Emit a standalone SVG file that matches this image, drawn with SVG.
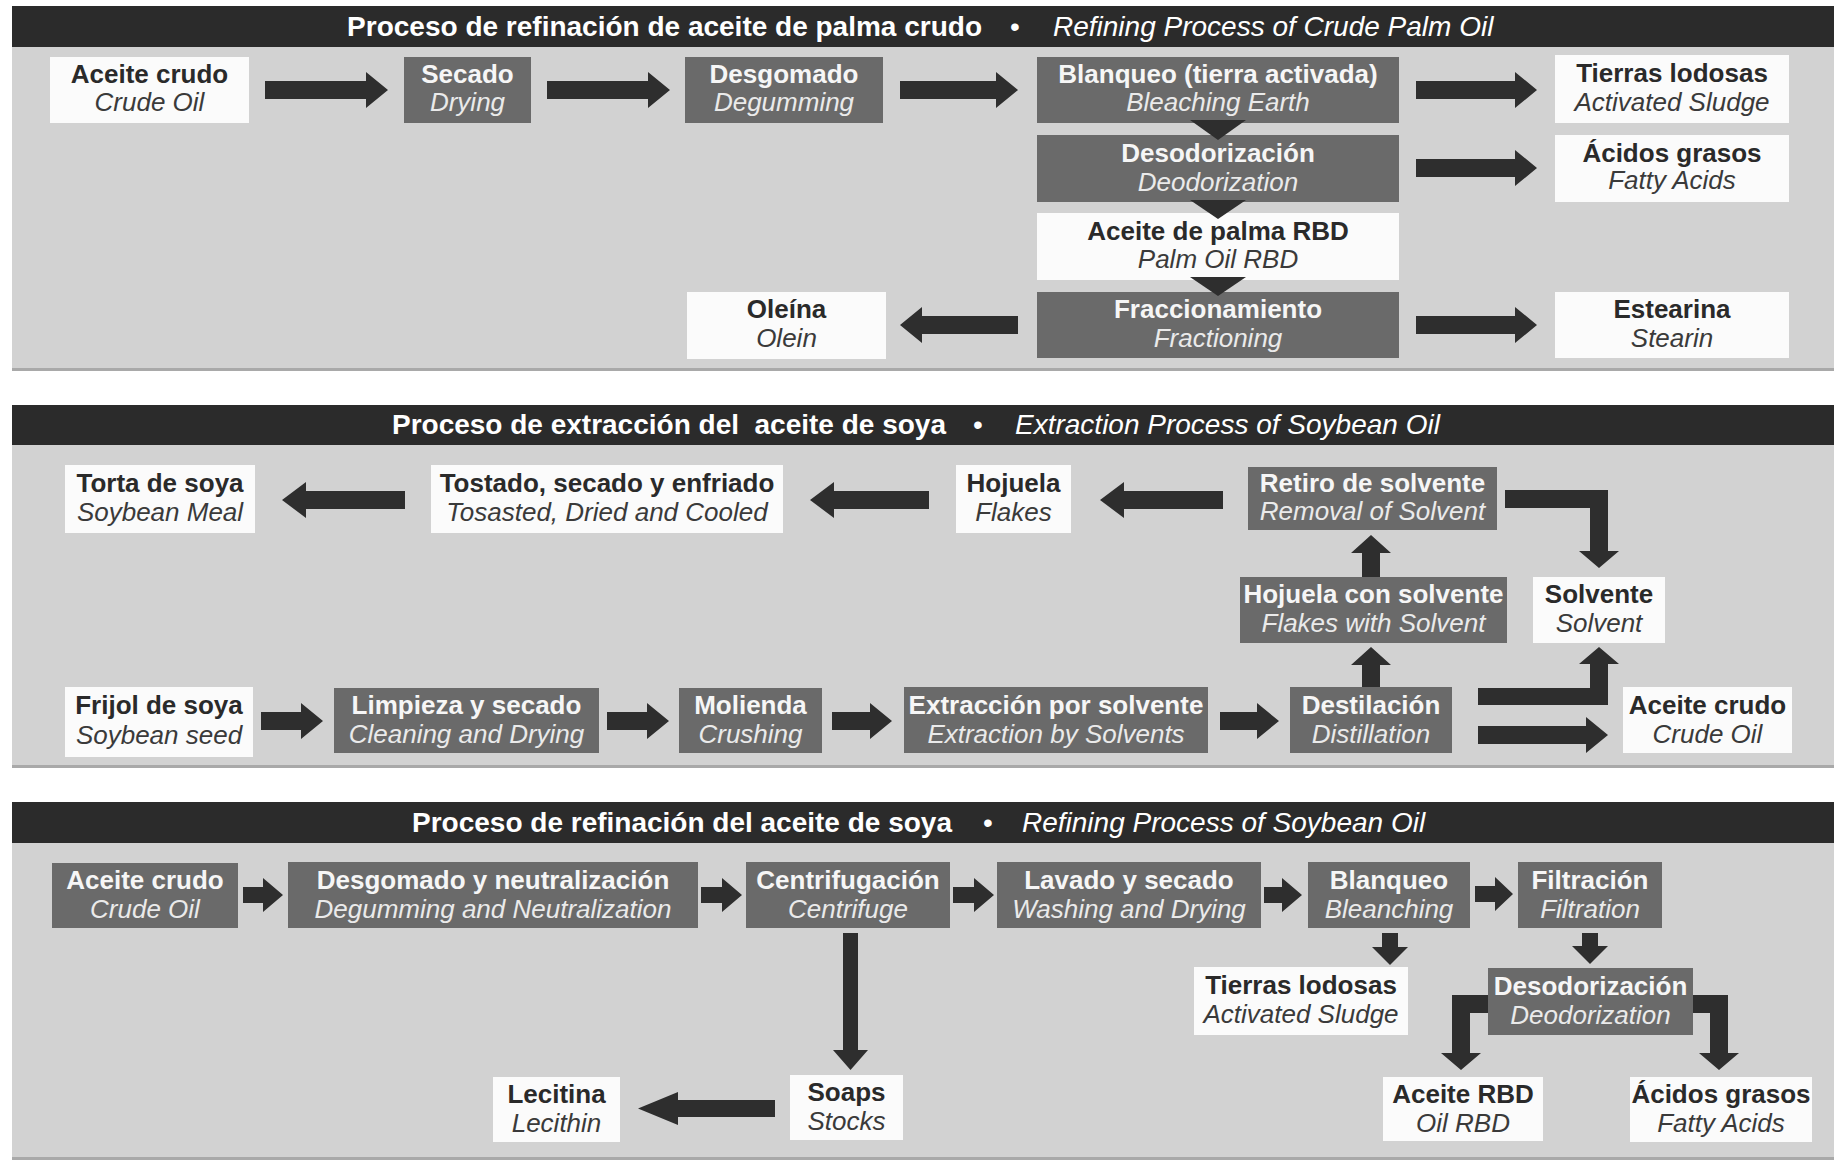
<svg xmlns="http://www.w3.org/2000/svg" width="1838" height="1164" viewBox="0 0 1838 1164">
<style>
.bg{fill:#ffffff}
.hdr{fill:#2b2b2b}
.body{fill:#d2d2d2}
.edge{fill:#a9a9a9}
.dk{fill:#6a6a6a}
.wt{fill:#fbfbfb}
.arr{fill:#2e2e2e}
text{font-family:"Liberation Sans",Arial,sans-serif;font-size:26px;text-anchor:middle}
.b{font-weight:bold}
.i{font-style:italic}
.dk-t{fill:#f6f6f6}
.dk-s{fill:#eaeaea}
.wt-t{fill:#2a2a2a}
.wt-s{fill:#3a3a3a}
.tt{font-size:28px;fill:#ffffff;white-space:pre}
.tb{font-weight:bold;text-anchor:end}
.ti{font-style:italic;text-anchor:start}
</style>
<rect class="bg" x="0" y="0" width="1838" height="1164"/>

<!-- Panel 1 -->
<g id="panel1">
<rect class="body" x="12" y="46" width="1822" height="325"/>
<rect class="edge" x="12" y="368" width="1822" height="3"/>
<rect class="hdr" x="12" y="6" width="1822" height="41"/>
<text class="tt tb" x="982" y="36">Proceso de refinación de aceite de palma crudo</text>
<text class="tt" x="1015" y="36">•</text>
<text class="tt ti" x="1053" y="36">Refining Process of Crude Palm Oil</text>
</g>

<!-- Panel 2 -->
<g id="panel2">
<rect class="body" x="12" y="444" width="1822" height="324"/>
<rect class="edge" x="12" y="765" width="1822" height="3"/>
<rect class="hdr" x="12" y="405" width="1822" height="40"/>
<text class="tt tb" x="946" y="434">Proceso de extracción del  aceite de soya</text>
<text class="tt" x="978" y="434">•</text>
<text class="tt ti" x="1015" y="434">Extraction Process of Soybean Oil</text>
</g>

<!-- Panel 3 -->
<g id="panel3">
<rect class="body" x="12" y="842" width="1822" height="318"/>
<rect class="edge" x="12" y="1157" width="1822" height="3"/>
<rect class="hdr" x="12" y="802" width="1822" height="41"/>
<text class="tt tb" x="952" y="832">Proceso de refinación del aceite de soya</text>
<text class="tt" x="988" y="832">•</text>
<text class="tt ti" x="1022" y="832">Refining Process of Soybean Oil</text>
</g>

<!-- Connectors -->
<g id="connectors">
<!-- panel 1 -->
<polygon class="arr" points="265,81 366,81 366,72 388,90 366,108 366,99 265,99"/>
<polygon class="arr" points="547,81 648,81 648,72 670,90 648,108 648,99 547,99"/>
<polygon class="arr" points="900,81 996,81 996,72 1018,90 996,108 996,99 900,99"/>
<polygon class="arr" points="1416,81 1515,81 1515,72 1537,90 1515,108 1515,99 1416,99"/>
<polygon class="arr" points="1416,159 1515,159 1515,150 1537,168 1515,186 1515,177 1416,177"/>
<polygon class="arr" points="1416,316 1515,316 1515,307 1537,325 1515,343 1515,334 1416,334"/>
<polygon class="arr" points="1018,316 922,316 922,307 900,325 922,343 922,334 1018,334"/>
<!-- panel 2 -->
<polygon class="arr" points="405,491 306,491 306,482 282,500 306,518 306,509 405,509"/>
<polygon class="arr" points="929,491 834,491 834,482 810,500 834,518 834,509 929,509"/>
<polygon class="arr" points="1223,491 1124,491 1124,482 1100,500 1124,518 1124,509 1223,509"/>
<polygon class="arr" points="1505,490 1608,490 1608,551 1619,551 1599,568 1579,551 1590,551 1590,508 1505,508"/>
<polygon class="arr" points="1362,577 1362,553 1351,553 1371,535 1391,553 1380,553 1380,577"/>
<polygon class="arr" points="1362,687 1362,665 1351,665 1371,647 1391,665 1380,665 1380,687"/>
<polygon class="arr" points="1478,705 1608,705 1608,664 1619,664 1599,647 1579,664 1590,664 1590,688 1478,688"/>
<polygon class="arr" points="1478,726 1586,726 1586,717 1608,735 1586,753 1586,744 1478,744"/>
<polygon class="arr" points="261,712 301,712 301,703 323,721 301,739 301,730 261,730"/>
<polygon class="arr" points="607,712 647,712 647,703 669,721 647,739 647,730 607,730"/>
<polygon class="arr" points="832,712 870,712 870,703 892,721 870,739 870,730 832,730"/>
<polygon class="arr" points="1220,712 1257,712 1257,703 1279,721 1257,739 1257,730 1220,730"/>
<!-- panel 3 -->
<polygon class="arr" points="243,887 263,887 263,878 283,895 263,912 263,903 243,903"/>
<polygon class="arr" points="701,887 722,887 722,878 742,895 722,912 722,903 701,903"/>
<polygon class="arr" points="953,887 974,887 974,878 994,895 974,912 974,903 953,903"/>
<polygon class="arr" points="1264,887 1282,887 1282,878 1302,895 1282,912 1282,903 1264,903"/>
<polygon class="arr" points="1475,886 1495,886 1495,877 1513,894 1495,911 1495,902 1475,902"/>
<polygon class="arr" points="843,933 858,933 858,1050 868,1050 850.5,1070 833,1050 843,1050"/>
<polygon class="arr" points="775,1100 678,1100 678,1092 638,1108.5 678,1125 678,1117 775,1117"/>
<polygon class="arr" points="1382,933 1398,933 1398,947 1408,947 1390,965 1372,947 1382,947"/>
<polygon class="arr" points="1582,933 1598,933 1598,946 1608,946 1590,964 1572,946 1582,946"/>
<polygon class="arr" points="1490,995 1452,995 1452,1053 1441,1053 1461,1070 1481,1053 1470,1053 1470,1013 1490,1013"/>
<polygon class="arr" points="1693,995 1728,995 1728,1053 1739,1053 1719,1070 1699,1053 1710,1053 1710,1013 1693,1013"/>
</g>

<!-- Panel 1 nodes -->
<g id="p1-crude"><rect class="wt" x="50" y="57" width="199" height="66"/><text class="b wt-t" x="149.5" y="83">Aceite crudo</text><text class="i wt-s" x="149.5" y="111">Crude Oil</text></g>
<g id="p1-secado"><rect class="dk" x="404" y="57" width="127" height="66"/><text class="b dk-t" x="467.5" y="83">Secado</text><text class="i dk-s" x="467.5" y="111">Drying</text></g>
<g id="p1-desgomado"><rect class="dk" x="685" y="57" width="198" height="66"/><text class="b dk-t" x="784" y="83">Desgomado</text><text class="i dk-s" x="784" y="111">Degumming</text></g>
<g id="p1-blanqueo"><rect class="dk" x="1037" y="57" width="362" height="66"/><text class="b dk-t" x="1218" y="83">Blanqueo (tierra activada)</text><text class="i dk-s" x="1218" y="111">Bleaching Earth</text></g>
<g id="p1-tierras"><rect class="wt" x="1555" y="55" width="234" height="68"/><text class="b wt-t" x="1672" y="82">Tierras lodosas</text><text class="i wt-s" x="1672" y="111">Activated Sludge</text></g>
<g id="p1-desodorizacion"><rect class="dk" x="1037" y="135" width="362" height="67"/><text class="b dk-t" x="1218" y="162">Desodorización</text><text class="i dk-s" x="1218" y="191">Deodorization</text></g>
<g id="p1-acidos"><rect class="wt" x="1555" y="135" width="234" height="67"/><text class="b wt-t" x="1672" y="162">Ácidos grasos</text><text class="i wt-s" x="1672" y="189">Fatty Acids</text></g>
<g id="p1-rbd"><rect class="wt" x="1037" y="213" width="362" height="67"/><text class="b wt-t" x="1218" y="240">Aceite de palma RBD</text><text class="i wt-s" x="1218" y="268">Palm Oil RBD</text></g>
<g id="p1-fraccionamiento"><rect class="dk" x="1037" y="292" width="362" height="66"/><text class="b dk-t" x="1218" y="318">Fraccionamiento</text><text class="i dk-s" x="1218" y="347">Fractioning</text></g>
<g id="p1-oleina"><rect class="wt" x="687" y="292" width="199" height="67"/><text class="b wt-t" x="786.5" y="318">Oleína</text><text class="i wt-s" x="786.5" y="347">Olein</text></g>
<g id="p1-estearina"><rect class="wt" x="1555" y="292" width="234" height="66"/><text class="b wt-t" x="1672" y="318">Estearina</text><text class="i wt-s" x="1672" y="347">Stearin</text></g>
<g id="p1-flow-marks">
<polygon class="arr" points="1190,120 1246,120 1218,140"/>
<polygon class="arr" points="1190,200 1246,200 1218,219"/>
<polygon class="arr" points="1190,277 1246,277 1218,296"/>
</g>

<!-- Panel 2 nodes -->
<g id="p2-torta"><rect class="wt" x="65" y="465" width="190" height="68"/><text class="b wt-t" x="160" y="492">Torta de soya</text><text class="i wt-s" x="160" y="521">Soybean Meal</text></g>
<g id="p2-tostado"><rect class="wt" x="431" y="465" width="352" height="68"/><text class="b wt-t" x="607" y="492">Tostado, secado y enfriado</text><text class="i wt-s" x="607" y="521">Tosasted, Dried and Cooled</text></g>
<g id="p2-hojuela"><rect class="wt" x="956" y="465" width="115" height="68"/><text class="b wt-t" x="1013.5" y="492">Hojuela</text><text class="i wt-s" x="1013.5" y="521">Flakes</text></g>
<g id="p2-retiro"><rect class="dk" x="1248" y="467" width="249" height="63"/><text class="b dk-t" x="1372.5" y="492">Retiro de solvente</text><text class="i dk-s" x="1372.5" y="520">Removal of Solvent</text></g>
<g id="p2-hojuela-solvente"><rect class="dk" x="1240" y="577" width="267" height="66"/><text class="b dk-t" x="1373.5" y="603">Hojuela con solvente</text><text class="i dk-s" x="1373.5" y="632">Flakes with Solvent</text></g>
<g id="p2-solvente"><rect class="wt" x="1533" y="577" width="132" height="66"/><text class="b wt-t" x="1599" y="603">Solvente</text><text class="i wt-s" x="1599" y="632">Solvent</text></g>
<g id="p2-frijol"><rect class="wt" x="65" y="687" width="188" height="70"/><text class="b wt-t" x="159" y="714">Frijol de soya</text><text class="i wt-s" x="159" y="744">Soybean seed</text></g>
<g id="p2-limpieza"><rect class="dk" x="334" y="688" width="265" height="65"/><text class="b dk-t" x="466.5" y="714">Limpieza y secado</text><text class="i dk-s" x="466.5" y="743">Cleaning and Drying</text></g>
<g id="p2-molienda"><rect class="dk" x="679" y="688" width="143" height="65"/><text class="b dk-t" x="750.5" y="714">Molienda</text><text class="i dk-s" x="750.5" y="743">Crushing</text></g>
<g id="p2-extraccion"><rect class="dk" x="904" y="687" width="304" height="66"/><text class="b dk-t" x="1056" y="714">Extracción por solvente</text><text class="i dk-s" x="1056" y="743">Extraction by Solvents</text></g>
<g id="p2-destilacion"><rect class="dk" x="1290" y="687" width="162" height="66"/><text class="b dk-t" x="1371" y="714">Destilación</text><text class="i dk-s" x="1371" y="743">Distillation</text></g>
<g id="p2-crude"><rect class="wt" x="1623" y="687" width="169" height="66"/><text class="b wt-t" x="1707.5" y="714">Aceite crudo</text><text class="i wt-s" x="1707.5" y="743">Crude Oil</text></g>

<!-- Panel 3 nodes -->
<g id="p3-crude"><rect class="dk" x="52" y="863" width="186" height="65"/><text class="b dk-t" x="145" y="889">Aceite crudo</text><text class="i dk-s" x="145" y="918">Crude Oil</text></g>
<g id="p3-desgomado"><rect class="dk" x="288" y="862" width="410" height="66"/><text class="b dk-t" x="493" y="889">Desgomado y neutralización</text><text class="i dk-s" x="493" y="918">Degumming and Neutralization</text></g>
<g id="p3-centrifugacion"><rect class="dk" x="746" y="862" width="204" height="66"/><text class="b dk-t" x="848" y="889">Centrifugación</text><text class="i dk-s" x="848" y="918">Centrifuge</text></g>
<g id="p3-lavado"><rect class="dk" x="997" y="862" width="264" height="66"/><text class="b dk-t" x="1129" y="889">Lavado y secado</text><text class="i dk-s" x="1129" y="918">Washing and Drying</text></g>
<g id="p3-blanqueo"><rect class="dk" x="1308" y="862" width="162" height="66"/><text class="b dk-t" x="1389" y="889">Blanqueo</text><text class="i dk-s" x="1389" y="918">Bleanching</text></g>
<g id="p3-filtracion"><rect class="dk" x="1518" y="862" width="144" height="66"/><text class="b dk-t" x="1590" y="889">Filtración</text><text class="i dk-s" x="1590" y="918">Filtration</text></g>
<g id="p3-tierras"><rect class="wt" x="1194" y="967" width="214" height="68"/><text class="b wt-t" x="1301" y="994">Tierras lodosas</text><text class="i wt-s" x="1301" y="1023">Activated Sludge</text></g>
<g id="p3-desodorizacion"><rect class="dk" x="1488" y="968" width="205" height="67"/><text class="b dk-t" x="1590.5" y="995">Desodorización</text><text class="i dk-s" x="1590.5" y="1024">Deodorization</text></g>
<g id="p3-soaps"><rect class="wt" x="790" y="1075" width="113" height="65"/><text class="b wt-t" x="846.5" y="1101">Soaps</text><text class="i wt-s" x="846.5" y="1130">Stocks</text></g>
<g id="p3-lecitina"><rect class="wt" x="493" y="1077" width="127" height="65"/><text class="b wt-t" x="556.5" y="1103">Lecitina</text><text class="i wt-s" x="556.5" y="1132">Lecithin</text></g>
<g id="p3-rbd"><rect class="wt" x="1383" y="1077" width="160" height="64"/><text class="b wt-t" x="1463" y="1103">Aceite RBD</text><text class="i wt-s" x="1463" y="1132">Oil RBD</text></g>
<g id="p3-acidos"><rect class="wt" x="1630" y="1077" width="182" height="65"/><text class="b wt-t" x="1721" y="1103">Ácidos grasos</text><text class="i wt-s" x="1721" y="1132">Fatty Acids</text></g>
</svg>
